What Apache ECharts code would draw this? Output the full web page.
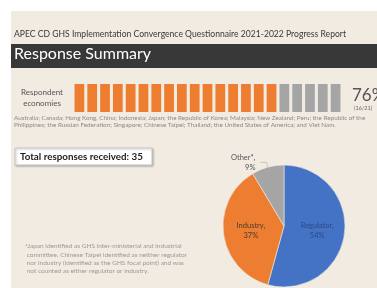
<!DOCTYPE html>
<html>
<head>
<meta charset="utf-8">
<script src="https://cdn.jsdelivr.net/npm/echarts@6/dist/echarts.min.js"></script>
<style>
  html, body { margin: 0; padding: 0; background: #ffffff; }
  #main { width: 377px; height: 288px; }
</style>
</head>
<body>
<div id="main"></div>
<script>
// respondent economies: one bar per APEC economy
var economyStatus = ['yes','yes','yes','yes','yes','yes','yes','yes','yes','yes','yes','yes','yes','yes','yes','yes','no','no','no','no','no'];
var barValues = [1,1,1,1,1,1,1,1,1,1,1,1,1,1,1,1,1,1,1,1,1];
var respondedCount = 16;
var totalEconomies = 21;

// response type pie
var pieNames = ['Regulator', 'Industry', 'Other*'];
var pieValues = [19, 13, 3];
var totalResponses = 35;

var subtitle = 'APEC CD GHS Implementation Convergence Questionnaire 2021-2022 Progress Report';
var economyList = [
  'Australia; Canada; Hong Kong, China; Indonesia; Japan; the Republic of Korea; Malaysia; New Zealand; Peru; the Republic of the',
  'Philippines; the Russian Federation; Singapore; Chinese Taipei; Thailand; the United States of America; and Viet Nam.'
];
var footnote = [
  '*Japan identified as GHS inter-ministerial and industrial',
  ' committee. Chinese Taipei identified as neither regulator',
  ' nor industry (identified as the GHS focal point) and was',
  ' not counted as either regulator or industry.'
];

var ORANGE = '#ED7D31', GREY = '#A5A5A5', BLUE = '#4472C4';
var FONT = 'Lato';

var myChart = echarts.init(document.getElementById('main'));

var pct = Math.round(respondedCount / totalEconomies * 100);

var option = {
  animation: false,
  textStyle: { fontFamily: FONT },
  graphic: [
    { type: 'rect', z: -10, shape: { x: 11, y: 11, width: 366, height: 277 }, style: { fill: '#F1EBE2' } },
    { type: 'text', left: 14, top: 30, style: { text: subtitle, fill: '#3a3a3a', font: '8.6px ' + FONT } },
    { type: 'rect', z: -5, shape: { x: 11, y: 44, width: 366, height: 24 }, style: { fill: '#383838' } },
    { type: 'text', left: 14, top: 46, style: { text: 'Response Summary', fill: '#ffffff', font: '16px ' + FONT } },
    { type: 'text', x: 42, y: 98, style: { text: 'Respondent\neconomies', fill: '#555555', font: '8px ' + FONT, align: 'center', verticalAlign: 'middle', lineHeight: 11 } },
    { type: 'text', x: 352, y: 96, style: { text: pct + '%', fill: '#555555', font: '17px ' + FONT, verticalAlign: 'middle' } },
    { type: 'text', x: 354, y: 108, style: { text: '(' + respondedCount + '/' + totalEconomies + ')', fill: '#666666', font: '5.5px ' + FONT, verticalAlign: 'middle' } },
    { type: 'text', left: 14, top: 114, style: { text: economyList.join('\n'), fill: '#8a8a8a', font: '6.3px ' + FONT, lineHeight: 7.5 } },
    { type: 'rect', shape: { x: 15, y: 148, width: 137, height: 17 }, style: { fill: '#ffffff', stroke: '#c8c8c8', lineWidth: 1, shadowBlur: 2, shadowColor: 'rgba(0,0,0,0.25)', shadowOffsetX: 1, shadowOffsetY: 1 } },
    { type: 'text', x: 20, y: 157, style: { text: 'Total responses received: ' + totalResponses, fill: '#222222', font: 'bold 9.8px ' + FONT, verticalAlign: 'middle' } },
    { type: 'text', left: 25, top: 242, style: { text: footnote.join('\n'), fill: '#999999', font: '6.5px ' + FONT, lineHeight: 8.4 } }
  ],
  grid: { left: 73, width: 269, top: 84, height: 28 },
  xAxis: {
    type: 'category',
    data: economyStatus.map(function (s, i) { return i; }),
    show: false
  },
  yAxis: { type: 'value', min: 0, max: 1, show: false },
  series: [
    {
      type: 'bar',
      barCategoryGap: '24%',
      data: barValues.map(function (v, i) {
        return { value: v, itemStyle: { color: economyStatus[i] === 'yes' ? ORANGE : GREY } };
      }),
      silent: true
    },
    {
      type: 'pie',
      center: [284, 226],
      radius: 61,
      startAngle: 90,
      clockwise: true,
      itemStyle: { borderColor: '#F1EBE2', borderWidth: 0.6 },
      label: { fontFamily: FONT, fontSize: 7.5, lineHeight: 9.5, formatter: function (p) { return p.name + ',\n' + Math.round(p.percent) + '%'; } },
      data: [
        { name: pieNames[0], value: pieValues[0], itemStyle: { color: BLUE }, label: { position: 'inside', color: '#2b4a86' } },
        { name: pieNames[1], value: pieValues[1], itemStyle: { color: ORANGE }, label: { position: 'inside', color: '#4a3a30' } },
        { name: pieNames[2], value: pieValues[2], itemStyle: { color: GREY }, label: { position: 'outside', color: '#555555' },
          labelLine: { show: true, length: 5, length2: 6, lineStyle: { color: '#aaaaaa', width: 0.6 } } }
      ]
    }
  ]
};

myChart.setOption(option);
</script>
</body>
</html>
